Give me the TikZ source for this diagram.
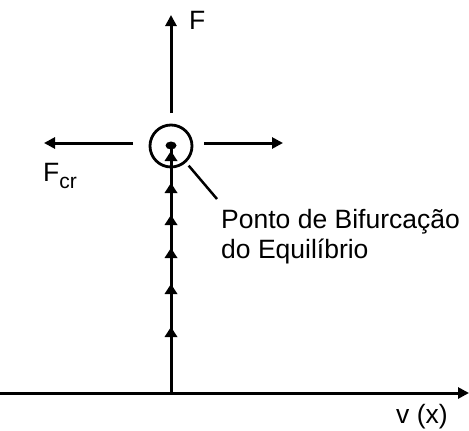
\documentclass[tikz,border=0pt]{standalone}
\usepackage{fontspec}
\setmainfont{Liberation Sans}
\usetikzlibrary{arrows.meta,shapes.geometric}
\begin{document}
\begin{tikzpicture}[x=1pt,y=-1pt,
  line/.style={line width=3pt},
  arr/.style={line width=3pt,-{Triangle[length=11pt,width=11pt]}},
  lbl/.style={font=\fontsize{26.5}{30}\selectfont, inner sep=0pt},
  tri/.style={fill=black}]
\useasboundingbox (0,0) rectangle (469,431);
% axis
\coordinate (ax0) at (0,393);
\coordinate (ax1) at (469,393);
\draw[arr] (ax0) -- (ax1);
% equilibrium path
\coordinate (O) at (171,393);
\node[ellipse, fill=black, minimum width=11pt, minimum height=8pt, inner sep=0pt] (dot) at (171,145.5) {};
\node[circle, draw, line width=2.8pt, minimum size=42pt, inner sep=0pt] (circ) at (171,146) {};
\draw[line] (O) -- (dot.center);
\foreach \t in {151,183,215,248,284,327}{
  \fill[tri] (171,\t) -- (177.5,\t+10) -- (164.5,\t+10) -- cycle;
}
% force arrows
\coordinate (up0) at (171,113);
\coordinate (up1) at (171,15);
\draw[arr] (up0) -- (up1);
\coordinate (l0) at (133,143);
\coordinate (l1) at (44,143);
\draw[arr] (l0) -- (l1);
\coordinate (r0) at (204,143);
\coordinate (r1) at (283,143);
\draw[arr] (r0) -- (r1);
% labels
\node[lbl, anchor=base west] (F) at (189,29) {F};
\node[lbl, anchor=base west] (Fcr) at (43,181) {F\raisebox{-7pt}{\fontsize{21}{21}\selectfont cr}};
\node[lbl, anchor=base west] (txt1) at (221,228) {Ponto de Bifurcação};
\node[lbl, anchor=base west] (txt2) at (221,258) {do Equilíbrio};
\node[lbl, anchor=base west] (vx) at (396,423) {v (x)};
% leader
\coordinate (lead1) at (217,199);
\draw[line width=2.5pt] (circ.-48) ++(-48:4pt) -- (lead1);
\end{tikzpicture}
\end{document}
